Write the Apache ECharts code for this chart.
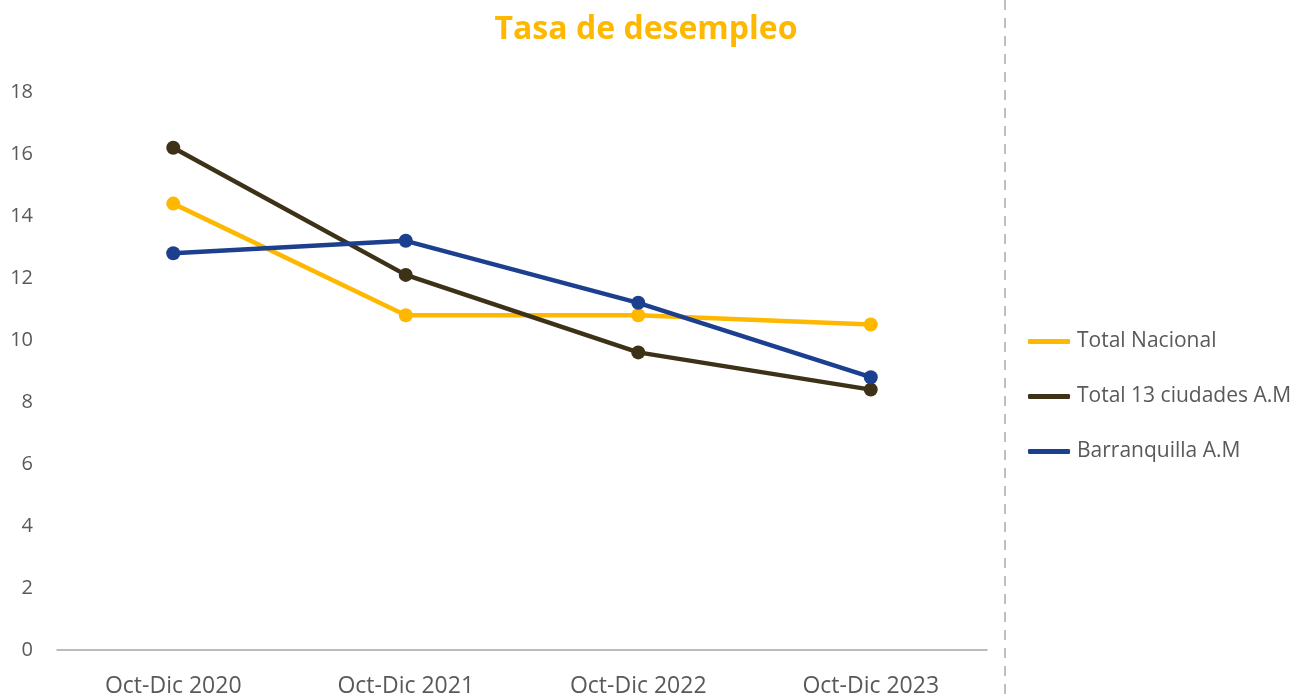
<!DOCTYPE html>
<html lang="es">
<head>
    <meta charset="utf-8">
    <title>Tasa de desempleo</title>
    <script src="https://cdn.jsdelivr.net/npm/echarts@6/dist/echarts.min.js"></script>
    <style>
        html, body { margin: 0; padding: 0; background: #fff; }
        #main { width: 1310px; height: 700px; }
    </style>
</head>
<body>
<div id="main"></div>
<script type="text/javascript">
    // categorias y series
    var categorias = ['Oct-Dic 2020', 'Oct-Dic 2021', 'Oct-Dic 2022', 'Oct-Dic 2023'];
    var totalNacional = [14.4, 10.8, 10.8, 10.5];
    var total13 = [16.2, 12.1, 9.6, 8.4];
    var barranquilla = [12.8, 13.2, 11.2, 8.8];

    var myChart = echarts.init(document.getElementById('main'));

    var fuente = '"Open Sans", "Noto Sans", sans-serif';

    function serie(nombre, datos, color) {
        return {
            name: nombre,
            type: 'line',
            data: datos,
            symbol: 'circle',
            symbolSize: 14,
            lineStyle: { width: 4.5, color: color },
            itemStyle: { color: color },
            animation: false
        };
    }

    var option = {
        backgroundColor: '#fff',
        textStyle: { fontFamily: fuente },
        title: {
            text: 'Tasa de desempleo',
            left: 641,
            textAlign: 'center',
            top: 9,
            textStyle: { color: '#FFB800', fontSize: 32, fontWeight: 'bold', fontFamily: fuente }
        },
        legend: {
            orient: 'vertical',
            left: 1023,
            top: 326,
            itemGap: 34,
            itemWidth: 42,
            itemHeight: 5,
            icon: 'roundRect',
            textStyle: { color: '#595959', fontSize: 21, fontFamily: fuente, padding: [0, 0, 0, 2] },
            data: ['Total Nacional', 'Total 13 ciudades A.M', 'Barranquilla A.M']
        },
        grid: { left: 57, right: 323, top: 92, bottom: 50 },
        xAxis: {
            type: 'category',
            data: categorias,
            axisLine: { lineStyle: { color: '#A6A6A6', width: 1.5 } },
            axisTick: { show: false },
            axisLabel: { color: '#595959', fontSize: 23, margin: 25, fontFamily: fuente }
        },
        yAxis: {
            type: 'value',
            min: 0,
            max: 18,
            interval: 2,
            axisLine: { show: false },
            axisTick: { show: false },
            splitLine: { show: false },
            axisLabel: { color: '#595959', fontSize: 20, margin: 24, fontFamily: fuente }
        },
        graphic: [{
            type: 'line',
            shape: { x1: 1005, y1: 0, x2: 1005, y2: 700 },
            style: { stroke: '#BFBFBF', lineWidth: 2, lineDash: [10, 8] }
        }],
        series: [
            serie('Total Nacional', totalNacional, '#FFB800'),
            serie('Total 13 ciudades A.M', total13, '#3D3118'),
            serie('Barranquilla A.M', barranquilla, '#1D3F8F')
        ]
    };

    myChart.setOption(option);
</script>
</body>
</html>
